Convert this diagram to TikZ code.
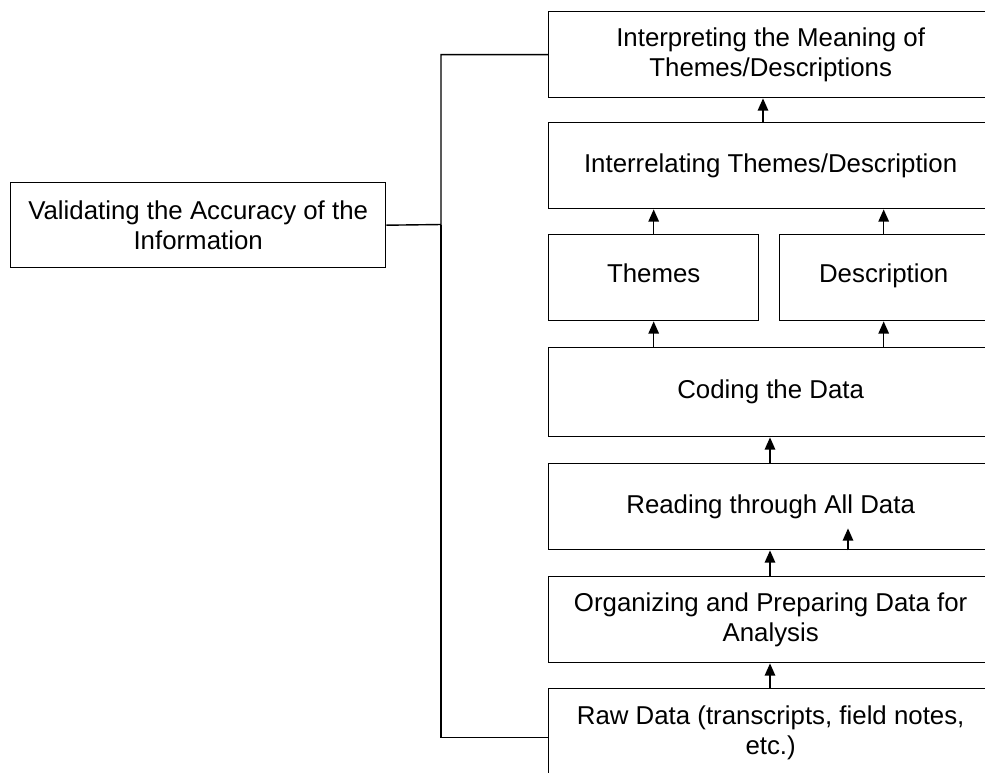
\documentclass[tikz,border=0pt]{standalone}
\usepackage{fontspec}
\setmainfont{Liberation Sans}
\usepackage{tikz}
\usetikzlibrary{arrows.meta,positioning}

\begin{document}
\begin{tikzpicture}
  [
    x=0.02cm, y=-0.02cm,
    every node/.style={font=\fontsize{14.7}{17.4}\selectfont},
    stage/.style={draw,line width=0.8pt,anchor=north west,align=center,inner sep=0pt,
      minimum width=8.88cm,minimum height=1.72cm},
    half/.style={stage,minimum width=4.2cm,text height=1.6ex,text depth=0.5ex},
    flow/.style={line width=0.8pt,-{Triangle[length=7pt,width=6pt]}}
  ]
  \useasboundingbox (0,0) rectangle (985,772);
  \clip (0,0) rectangle (985,772);
  % stages of the analysis, top to bottom
  \node[stage] (interp) at (548,11) {Interpreting the Meaning of\\Themes/Descriptions};
  \node[stage] (interrel) at (548,122) {Interrelating Themes/Description};
  \node[half] (themes) at (548,234) {Themes};
  \node[half,minimum width=4.16cm] (descr) at (779,234) {Description};
  \node[stage,minimum height=1.78cm] (coding) at (548,347) {Coding the Data};
  \node[stage] (reading) at (548,463) {Reading through All Data};
  \node[stage] (organize) at (548,576) {Organizing and Preparing Data for\\Analysis};
  \node[stage,minimum height=1.76cm] (raw) at (548,688) {Raw Data (transcripts, field notes,\\etc.)};
  \node[draw,line width=0.8pt,align=center,minimum width=7.5cm,minimum height=1.7cm,
    anchor=north west,inner sep=0pt] (valid) at (10,182)
    {Validating the Accuracy of the\\Information};
  % arrows between the stages
  \draw[flow] (raw.north -| 770,0) -- (organize.south -| 770,0);
  \draw[flow] (organize.north -| 770,0) -- (reading.south -| 770,0);
  \draw[flow] (reading.south -| 848,0) -- ++(0,-22);
  \draw[flow] (reading.north -| 770,0) -- (coding.south -| 770,0);
  \draw[flow] (coding.north -| themes.south) -- (themes.south);
  \draw[flow] (coding.north -| descr.south) -- (descr.south);
  \draw[flow] (themes.north) -- (themes.north |- interrel.south);
  \draw[flow] (descr.north) -- (descr.north |- interrel.south);
  \draw[flow] (interrel.north -| 763,0) -- (interp.south -| 763,0);
  % validation bracket
  \coordinate (bend) at (441,224.5);
  \draw[line width=0.8pt] (valid.east) -- (bend) |- (interp.west);
  \draw[line width=0.8pt] (bend) |- ([yshift=-0.1cm]raw.west);
\end{tikzpicture}
\end{document}
